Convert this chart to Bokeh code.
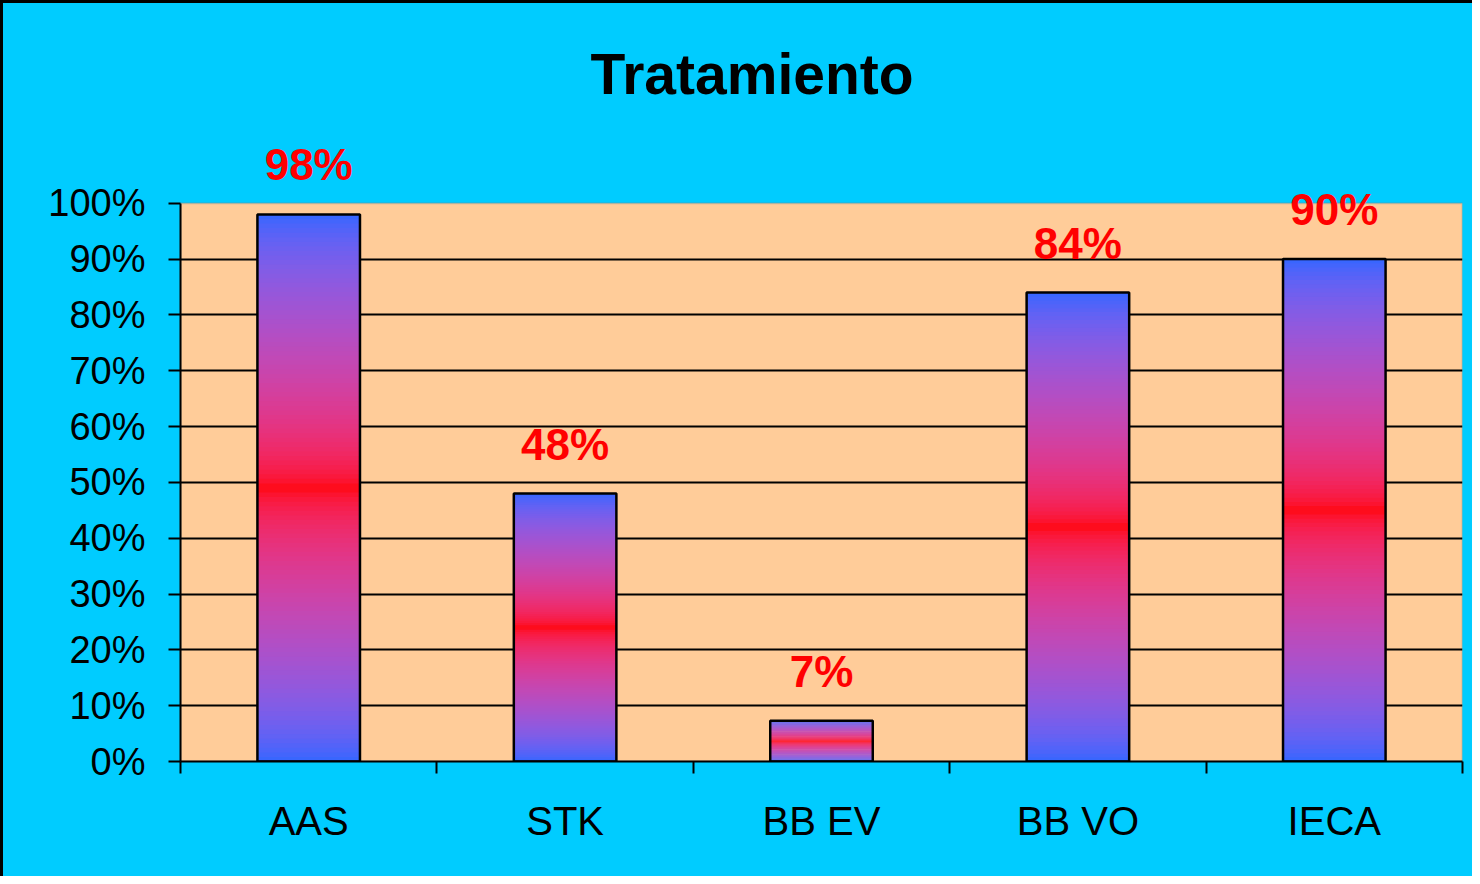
import numpy as np
from bokeh.plotting import figure
from bokeh.models import (ColumnDataSource, FixedTicker, NumeralTickFormatter,
                          Range1d, LabelSet, Title, BoxAnnotation)
from bokeh.core.properties import value
from bokeh.embed import file_html
from bokeh.resources import INLINE

# ---- data ----
categories = ["AAS", "STK", "BB EV", "BB VO", "IECA"]
values = [0.98, 0.48, 0.073, 0.84, 0.90]
value_labels = ["98%", "48%", "7%", "84%", "90%"]
y_ticks = [0.0, 0.1, 0.2, 0.3, 0.4, 0.5, 0.6, 0.7, 0.8, 0.9, 1.0]

FONT = "Liberation Sans"
BLUE = (51, 102, 255)
RED = (255, 0, 0)
CYAN = "#00CCFF"


def mix(c1, c2, t, g=2.2):
    out = []
    for a, b in zip(c1, c2):
        la = (a / 255.0) ** g
        lb = (b / 255.0) ** g
        v = (la + (lb - la) * t) ** (1.0 / g)
        out.append(int(round(v * 255)))
    return "#%02x%02x%02x" % tuple(out)


centers = [i + 0.5 for i in range(len(categories))]
bar_w = 0.4
Y_END = 1.15
PX_PER_UNIT = 558

p = figure(frame_width=1282, frame_height=round(PX_PER_UNIT * Y_END),
           output_backend="svg", toolbar_location=None,
           x_range=Range1d(0, len(categories)), y_range=Range1d(0, Y_END))
p.styles = {"border-top": "3px solid black", "border-left": "3px solid black",
            "background-color": CYAN}
p.min_border_left = 177
p.min_border_right = 10
p.min_border_top = 116
p.min_border_bottom = 115
p.border_fill_color = CYAN
p.background_fill_color = CYAN
p.outline_line_color = None

# plot area (0..100%)
area = BoxAnnotation(bottom=0, top=1.0, fill_color="#FFCC99", fill_alpha=1.0,
                     line_color="#808080", line_width=2, level="image")
p.add_layout(area)

# gradient bars built as thin slices
N = 120
L, R, B, T, C = [], [], [], [], []
for c, v in zip(centers, values):
    h = v / N
    for i in range(N):
        y0 = h * i
        y1 = min(v, h * (i + 1.7))
        d = abs((i + 0.5) / N - 0.5) * 2.0
        L.append(c - bar_w / 2)
        R.append(c + bar_w / 2)
        B.append(y0)
        T.append(y1)
        C.append(mix(RED, BLUE, d))
slices = ColumnDataSource(dict(left=L, right=R, bottom=B, top=T, color=C))
p.quad(left="left", right="right", bottom="bottom", top="top", source=slices,
       fill_color="color", line_color=None)

bars = ColumnDataSource(dict(x=centers, top=values, lab=value_labels))
p.vbar(x="x", top="top", width=bar_w, source=bars, fill_color=None,
       line_color="black", line_width=2.5)

labels = LabelSet(x="x", y="top", text="lab", source=bars, text_align="center",
                  text_baseline="alphabetic", y_offset=34,
                  text_font=value(FONT), text_font_size=value("44px"),
                  text_font_style="bold", text_color="#FF0000")
p.add_layout(labels)

# title
p.title = Title(text="Tratamiento", align="left", offset=410, standoff=27,
                text_font=FONT, text_font_size="57px", text_font_style="bold",
                text_color="black")

# y axis
p.yaxis.bounds = (0, 1)
p.yaxis.ticker = FixedTicker(ticks=y_ticks)
p.yaxis.formatter = NumeralTickFormatter(format="0%")
p.yaxis.major_label_text_font = FONT
p.yaxis.major_label_text_font_size = "38px"
p.yaxis.major_label_text_color = "black"
p.yaxis.major_tick_out = 12
p.yaxis.major_tick_in = 0
p.yaxis.major_tick_line_width = 2
p.yaxis.minor_tick_line_color = None
p.yaxis.axis_line_width = 2
p.yaxis.major_label_standoff = 23

# x axis: labels at centers, ticks at boundaries (minor ticks)
p.xaxis.ticker = FixedTicker(ticks=centers,
                             minor_ticks=list(range(len(categories) + 1)))
p.xaxis.major_label_overrides = {c: lab for c, lab in zip(centers, categories)}
p.xaxis.major_label_text_font = FONT
p.xaxis.major_label_text_font_size = "40px"
p.xaxis.major_label_text_color = "black"
p.xaxis.major_tick_line_color = None
p.xaxis.major_tick_out = 0
p.xaxis.major_tick_in = 0
p.xaxis.minor_tick_out = 12
p.xaxis.minor_tick_in = 0
p.xaxis.minor_tick_line_width = 2
p.xaxis.minor_tick_line_color = "black"
p.xaxis.axis_line_width = 2
p.xaxis.major_label_standoff = 25

# grid
p.xgrid.grid_line_color = None
p.ygrid.ticker = FixedTicker(ticks=y_ticks[1:-1])
p.ygrid.grid_line_color = "black"
p.ygrid.grid_line_width = 2

open("out.html", "w").write(file_html(p, INLINE))
